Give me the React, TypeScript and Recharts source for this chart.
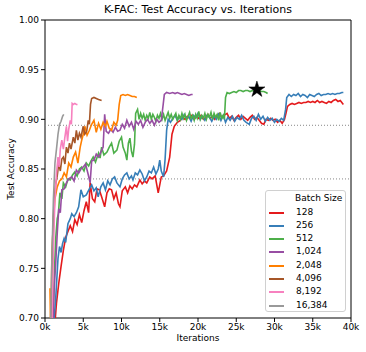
import React from 'react';
import { LineChart, Line, XAxis, YAxis, ReferenceLine, ReferenceArea, ReferenceDot } from 'recharts';

const batchSizes = ['128', '256', '512', '1,024', '2,048', '4,096', '8,192', '16,384'];
const colors = ['#e41a1c', '#377eb8', '#4daf4a', '#984ea3', '#ff7f00', '#a65628', '#f781bf', '#999999'];

const xTicks = [0, 5000, 10000, 15000, 20000, 25000, 30000, 35000, 40000];
const yTicks = [0.7, 0.75, 0.8, 0.85, 0.9, 0.95, 1.0];
const refLevels = [0.894, 0.84];
const starIter = 27700;
const starAcc = 0.93;

const it128 = [1300, 1500, 1800, 2100, 2400, 2700, 3000, 3300, 3600, 3900, 4200, 4500, 4800, 5100, 5400, 5700, 5900, 6200, 6500, 6800, 7100, 7400, 7800, 8100, 8400, 8700, 9000, 9300, 9600, 9800, 10100, 10500, 10800, 11100, 11400, 11700, 12000, 12400, 12700, 13000, 13300, 13700, 14000, 14400, 14800, 15200, 15500, 15900, 16300, 16600, 16900, 17300, 17700, 18000, 18300, 18600, 18900, 19200, 19500, 19800, 20100, 20400, 20700, 21000, 21300, 21600, 21900, 22200, 22500, 22800, 23100, 23400, 23800, 24100, 24400, 24700, 25000, 25300, 25600, 25900, 26200, 26500, 26800, 27100, 27400, 27700, 28000, 28300, 28600, 28900, 29200, 29500, 29800, 30100, 30400, 30700, 31000, 31300, 31500, 31700, 32000, 32300, 32600, 32900, 33200, 33500, 33800, 34100, 34400, 34700, 35000, 35300, 35600, 35900, 36200, 36500, 36800, 37100, 37400, 37700, 38000, 38300, 38600, 38800, 39000];
const acc128 = [0.695, 0.715, 0.735, 0.752, 0.768, 0.781, 0.787, 0.793, 0.787, 0.799, 0.794, 0.804, 0.796, 0.808, 0.817, 0.806, 0.836, 0.82, 0.817, 0.83, 0.829, 0.822, 0.812, 0.826, 0.83, 0.829, 0.82, 0.826, 0.815, 0.812, 0.828, 0.832, 0.826, 0.833, 0.83, 0.834, 0.832, 0.839, 0.835, 0.838, 0.836, 0.842, 0.84, 0.843, 0.826, 0.842, 0.843, 0.848, 0.862, 0.885, 0.893, 0.897, 0.899, 0.902, 0.9, 0.903, 0.901, 0.904, 0.9, 0.903, 0.901, 0.904, 0.9, 0.902, 0.905, 0.901, 0.903, 0.9, 0.904, 0.906, 0.902, 0.904, 0.906, 0.901, 0.903, 0.899, 0.902, 0.904, 0.9, 0.903, 0.901, 0.899, 0.902, 0.904, 0.9, 0.902, 0.899, 0.896, 0.895, 0.9, 0.899, 0.901, 0.899, 0.9, 0.897, 0.899, 0.896, 0.9, 0.906, 0.913, 0.915, 0.916, 0.915, 0.916, 0.917, 0.916, 0.917, 0.917, 0.918, 0.917, 0.918, 0.917, 0.919, 0.917, 0.918, 0.917, 0.916, 0.918, 0.917, 0.919, 0.92, 0.918, 0.919, 0.917, 0.915];

const it256 = [1100, 1400, 1700, 1900, 2100, 2300, 2500, 2700, 3000, 3300, 3500, 3800, 4100, 4400, 4700, 5000, 5400, 5800, 6100, 6400, 6700, 6950, 7300, 7600, 7900, 8200, 8500, 8800, 9100, 9400, 9800, 10100, 10400, 10700, 11000, 11300, 11500, 11800, 12100, 12400, 12700, 13000, 13300, 13600, 13900, 14200, 14500, 14800, 15000, 15200, 15500, 15700, 15900, 16100, 16400, 16700, 17000, 17300, 17600, 17900, 18200, 18500, 18800, 19100, 19400, 19700, 20000, 20300, 20600, 20900, 21200, 21500, 21800, 22100, 22400, 22700, 23000, 23300, 23600, 23900, 24200, 24500, 24800, 25100, 25400, 25700, 26000, 26300, 26700, 27000, 27300, 27600, 27900, 28200, 28500, 28800, 29100, 29400, 29700, 30000, 30300, 30600, 30900, 31200, 31450, 31600, 31900, 32200, 32500, 32800, 33100, 33400, 33700, 34000, 34300, 34600, 34900, 35200, 35500, 35800, 36100, 36400, 36700, 37000, 37300, 37600, 37900, 38200, 38500, 38800, 39000];
const acc256 = [0.69, 0.72, 0.76, 0.772, 0.766, 0.775, 0.78, 0.776, 0.795, 0.8, 0.805, 0.802, 0.806, 0.812, 0.829, 0.822, 0.824, 0.83, 0.834, 0.828, 0.831, 0.822, 0.832, 0.836, 0.829, 0.838, 0.834, 0.84, 0.842, 0.836, 0.832, 0.84, 0.844, 0.846, 0.84, 0.843, 0.839, 0.846, 0.844, 0.849, 0.845, 0.838, 0.842, 0.848, 0.846, 0.852, 0.845, 0.85, 0.859, 0.848, 0.842, 0.86, 0.889, 0.9, 0.897, 0.901, 0.904, 0.899, 0.903, 0.9, 0.905, 0.901, 0.903, 0.898, 0.904, 0.902, 0.906, 0.9, 0.903, 0.899, 0.904, 0.902, 0.898, 0.903, 0.9, 0.905, 0.899, 0.904, 0.897, 0.902, 0.899, 0.903, 0.898, 0.902, 0.9, 0.904, 0.899, 0.897, 0.895, 0.901, 0.903, 0.899, 0.905, 0.9, 0.903, 0.898, 0.902, 0.899, 0.901, 0.897, 0.9, 0.898, 0.901, 0.899, 0.91, 0.922, 0.925, 0.923, 0.925, 0.924, 0.926, 0.923, 0.925, 0.924, 0.922, 0.925, 0.924, 0.923, 0.925, 0.926, 0.924, 0.925, 0.925, 0.926, 0.925, 0.926, 0.925, 0.926, 0.926, 0.927, 0.927];

const it512 = [1000, 1200, 1400, 1600, 1750, 1950, 2200, 2400, 2700, 3000, 3300, 3600, 3900, 4200, 4500, 4800, 5100, 5400, 5700, 6000, 6300, 6600, 7000, 7200, 7400, 7700, 8100, 8400, 8700, 9000, 9400, 9700, 10000, 10200, 10500, 10700, 10900, 11100, 11300, 11500, 11700, 11850, 12100, 12300, 12500, 12700, 12900, 13100, 13300, 13500, 13700, 13900, 14100, 14300, 14500, 14700, 14900, 15100, 15300, 15500, 15700, 15900, 16100, 16300, 16500, 16700, 16900, 17100, 17300, 17500, 17700, 17900, 18100, 18300, 18500, 18700, 18900, 19100, 19300, 19500, 19700, 19900, 20100, 20300, 20500, 20700, 20900, 21100, 21300, 21500, 21700, 21900, 22100, 22300, 22500, 22700, 22900, 23100, 23300, 23450, 23600, 23800, 24100, 24400, 24700, 25000, 25300, 25600, 25900, 26200, 26500, 26800, 27100, 27400, 27700, 28000, 28300, 28600, 28900, 29100];
const acc512 = [0.69, 0.74, 0.78, 0.8, 0.805, 0.826, 0.82, 0.836, 0.832, 0.84, 0.839, 0.844, 0.847, 0.843, 0.85, 0.852, 0.848, 0.856, 0.853, 0.858, 0.862, 0.857, 0.866, 0.861, 0.872, 0.864, 0.867, 0.872, 0.876, 0.866, 0.869, 0.878, 0.882, 0.872, 0.866, 0.859, 0.876, 0.881, 0.868, 0.862, 0.875, 0.906, 0.91, 0.9, 0.906, 0.901, 0.905, 0.899, 0.904, 0.901, 0.907, 0.9, 0.905, 0.902, 0.898, 0.904, 0.901, 0.906, 0.9, 0.905, 0.899, 0.903, 0.907, 0.901, 0.905, 0.9, 0.903, 0.906, 0.899, 0.904, 0.9, 0.906, 0.901, 0.905, 0.899, 0.903, 0.907, 0.901, 0.904, 0.899, 0.905, 0.901, 0.908, 0.9, 0.904, 0.901, 0.906, 0.9, 0.905, 0.902, 0.907, 0.9, 0.906, 0.902, 0.905, 0.899, 0.907, 0.901, 0.904, 0.9, 0.922, 0.927, 0.926, 0.927, 0.928, 0.927, 0.929, 0.929, 0.928, 0.929, 0.929, 0.928, 0.929, 0.928, 0.928, 0.929, 0.928, 0.928, 0.927, 0.926];

const it1024 = [1000, 1200, 1400, 1600, 1800, 2000, 2200, 2500, 2800, 3100, 3500, 3800, 4100, 4400, 4700, 5000, 5300, 5600, 5900, 6100, 6400, 6700, 7000, 7300, 7600, 7800, 8000, 8300, 8600, 8900, 9200, 9500, 9800, 10100, 10400, 10700, 11000, 11300, 11600, 11900, 12200, 12500, 12800, 13100, 13400, 13700, 14000, 14300, 14600, 14900, 15200, 15450, 15600, 15900, 16300, 16700, 17000, 17300, 17600, 17900, 18200, 18500, 18800, 19100, 19300];
const acc1024 = [0.68, 0.73, 0.755, 0.785, 0.81, 0.806, 0.829, 0.83, 0.836, 0.84, 0.842, 0.838, 0.849, 0.846, 0.85, 0.852, 0.855, 0.846, 0.836, 0.858, 0.859, 0.865, 0.862, 0.867, 0.872, 0.905, 0.888, 0.886, 0.89, 0.887, 0.892, 0.888, 0.889, 0.895, 0.891, 0.899, 0.893, 0.897, 0.89, 0.898, 0.895, 0.899, 0.892, 0.897, 0.9, 0.896, 0.899, 0.894, 0.9, 0.897, 0.899, 0.915, 0.925, 0.927, 0.926, 0.927, 0.926, 0.927, 0.926, 0.925, 0.926, 0.925, 0.924, 0.925, 0.925];

const it2048 = [650, 750, 900, 1100, 1300, 1600, 1900, 2200, 2500, 2800, 3100, 3400, 3700, 4000, 4300, 4600, 4800, 5000, 5200, 5500, 5800, 6100, 6400, 6700, 7000, 7300, 7600, 7900, 8100, 8400, 8700, 9000, 9300, 9500, 9700, 9900, 10200, 10500, 10800, 11100, 11400, 11700, 12000];
const acc2048 = [0.73, 0.685, 0.76, 0.8, 0.82, 0.832, 0.838, 0.84, 0.846, 0.842, 0.856, 0.852, 0.862, 0.867, 0.856, 0.872, 0.879, 0.885, 0.893, 0.884, 0.889, 0.895, 0.899, 0.887, 0.896, 0.89, 0.897, 0.893, 0.898, 0.891, 0.889, 0.897, 0.894, 0.899, 0.915, 0.924, 0.925, 0.924, 0.925, 0.924, 0.923, 0.923, 0.922];

const it4096 = [800, 1000, 1200, 1400, 1600, 1800, 2000, 2200, 2400, 2600, 2800, 3000, 3200, 3400, 3700, 3900, 4100, 4300, 4500, 4700, 5000, 5200, 5450, 5650, 5800, 5950, 6100, 6400, 6700, 7000, 7400];
const acc4096 = [0.69, 0.78, 0.82, 0.835, 0.843, 0.856, 0.848, 0.86, 0.862, 0.855, 0.872, 0.866, 0.876, 0.87, 0.882, 0.876, 0.889, 0.879, 0.886, 0.882, 0.893, 0.885, 0.888, 0.899, 0.895, 0.915, 0.921, 0.922, 0.921, 0.92, 0.919];

const it8192 = [900, 1100, 1300, 1500, 1700, 1850, 2000, 2200, 2400, 2600, 2800, 2950, 3100, 3300, 3450, 3550, 3700, 3900, 4100, 4250];
const acc8192 = [0.69, 0.77, 0.82, 0.845, 0.862, 0.852, 0.87, 0.879, 0.87, 0.882, 0.893, 0.878, 0.89, 0.899, 0.895, 0.916, 0.915, 0.916, 0.915, 0.915];

const it16384 = [700, 900, 1100, 1300, 1500, 1700, 1900, 2100, 2300, 2450];
const acc16384 = [0.69, 0.76, 0.82, 0.856, 0.87, 0.885, 0.895, 0.898, 0.903, 0.905];

const iterSets = [it128, it256, it512, it1024, it2048, it4096, it8192, it16384];
const accSets = [acc128, acc256, acc512, acc1024, acc2048, acc4096, acc8192, acc16384];

const seriesData = iterSets.map((its, i) => its.map((it, j) => ({ it, acc: accSets[i][j] })));

const FONT = '"DejaVu Sans", sans-serif';

const StarShape = (props: any) => {
  const { cx, cy } = props;
  const R = 8.5;
  const r = R * 0.38;
  const pts: string[] = [];
  for (let k = 0; k < 10; k++) {
    const rad = k % 2 === 0 ? R : r;
    const a = -Math.PI / 2 + (k * Math.PI) / 5;
    pts.push(`${cx + rad * Math.cos(a)},${cy + rad * Math.sin(a)}`);
  }
  return <polygon points={pts.join(' ')} fill="#000" stroke="#000" strokeWidth={0.5} />;
};

export default function App() {
  return (
    <div style={{ position: 'absolute', left: 0, top: 0, width: 366, height: 352, background: '#fff', fontFamily: FONT }}>
      <LineChart width={366} height={352} margin={{ top: 20, right: 15, bottom: 0, left: 0 }}>
        <XAxis
          dataKey="it"
          type="number"
          domain={[0, 40000]}
          ticks={xTicks}
          tickFormatter={(v: number) => `${v / 1000}k`}
          height={34}
          tickSize={4}
          tickMargin={2}
          axisLine={false}
          tick={{ fontSize: 9, fill: '#000', fontFamily: FONT }}
          tickLine={{ stroke: '#000' }}
          allowDataOverflow
        />
        <YAxis
          type="number"
          domain={[0.7, 1.0]}
          ticks={yTicks}
          tickFormatter={(v: number) => v.toFixed(2)}
          width={45}
          tickSize={4}
          tickMargin={2}
          axisLine={false}
          tick={{ fontSize: 9, fill: '#000', fontFamily: FONT }}
          tickLine={{ stroke: '#000' }}
          allowDataOverflow
        />
        {refLevels.map((v) => (
          <ReferenceLine key={v} y={v} stroke="#888" strokeDasharray="1 2" strokeWidth={1} />
        ))}
        {seriesData.map((d, i) => (
          <Line
            key={batchSizes[i]}
            data={d}
            dataKey="acc"
            stroke={colors[i]}
            strokeWidth={1.6}
            dot={false}
            isAnimationActive={false}
            name={batchSizes[i]}
          />
        ))}
        <ReferenceDot x={starIter} y={starAcc} shape={StarShape} />
        <ReferenceArea x1={0} x2={40000} y1={0.7} y2={1.0} fill="none" stroke="#000" strokeWidth={1} />
      </LineChart>
      <div style={{ position: 'absolute', left: 45, width: 306, top: 3, textAlign: 'center', fontSize: 11, color: '#000' }}>
        K-FAC: Test Accuracy vs. Iterations
      </div>
      <div style={{ position: 'absolute', left: 45, width: 306, top: 333, textAlign: 'center', fontSize: 9, color: '#000' }}>
        Iterations
      </div>
      <div
        style={{
          position: 'absolute',
          left: 11,
          top: 169,
          transform: 'translate(-50%, -50%) rotate(-90deg)',
          fontSize: 9,
          whiteSpace: 'nowrap',
          color: '#000',
        }}
      >
        Test Accuracy
      </div>
      <div
        style={{
          position: 'absolute',
          left: 265,
          top: 190,
          width: 81,
          height: 122,
          boxSizing: 'border-box',
          border: '1px solid #d0d0d0',
          borderRadius: 3,
          background: 'rgba(255,255,255,0.8)',
          fontSize: 9,
          color: '#000',
        }}
      >
        <div style={{ position: 'absolute', left: 29, top: 2, lineHeight: '11px' }}>Batch Size</div>
        {batchSizes.map((b, i) => (
          <div key={b} style={{ position: 'absolute', left: 0, top: Math.round(15.5 + i * 13.33), height: 11, lineHeight: '11px' }}>
            <span style={{ position: 'absolute', left: 3, top: 5, width: 15, height: 2, background: colors[i] }} />
            <span style={{ position: 'absolute', left: 30, top: 0, whiteSpace: 'nowrap' }}>{b}</span>
          </div>
        ))}
      </div>
    </div>
  );
}
